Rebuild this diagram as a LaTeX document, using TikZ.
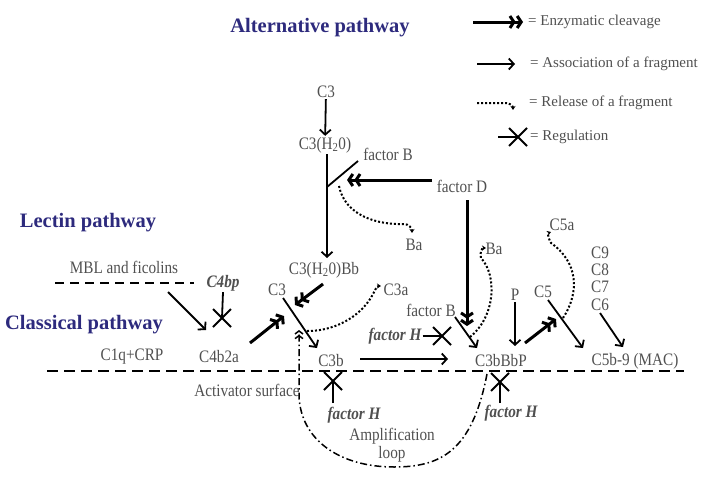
\documentclass[tikz,border=0pt]{standalone}
\usepackage{fontspec}
\setmainfont{Liberation Serif}
\newfontfamily\condserif[FakeStretch=0.87]{Liberation Serif}
\usetikzlibrary{arrows.meta,positioning}
\definecolor{pathblue}{RGB}{45,42,125}
\definecolor{lblgray}{RGB}{80,80,80}
\tikzset{
  lbl/.style={text=lblgray,font=\condserif\fontsize{17.5}{18}\selectfont,inner sep=1pt},
  leglbl/.style={text=lblgray,font=\fontsize{15}{16}\selectfont,inner sep=1pt},
  reglbl/.style={lbl,font=\condserif\fontsize{17.5}{18}\selectfont\bfseries\itshape},
  pathway/.style={text=pathblue,font=\fontsize{20.5}{24}\selectfont\bfseries,inner sep=1pt},
  assoc/.style={line width=1.8pt,-{Straight Barb[length=5pt,width=11pt]}},
  cleave/.style={line width=3pt,-{Straight Barb[length=4pt,width=12pt]Straight Barb[length=4pt,width=12pt]}},
  release/.style={line width=2pt,dotted,-{Stealth[length=4pt,width=5pt]}},
  regline/.style={line width=1.8pt},
  regx/.pic={\draw[line width=1.8pt] (-9,-9) -- (9,9) (-9,9) -- (9,-9);},
  surface/.style={line width=2.2pt,dash pattern=on 11pt off 6pt},
  lectin/.style={line width=1.8pt,dash pattern=on 9pt off 6pt},
  amploop/.style={line width=1.5pt,dash pattern=on 7pt off 3pt on 1.5pt off 3pt,
    -{Straight Barb[length=3pt,width=8pt]Straight Barb[length=3pt,width=8pt]}}
}
\begin{document}
\begin{tikzpicture}[x=1pt,y=-1pt]
\useasboundingbox (0,0) rectangle (709,479);
% pathway titles
\node[pathway] (altp) at (320,28) {Alternative pathway};
\node[pathway] (lecp) at (88,223) {Lectin pathway};
\node[pathway] (clap) at (84,325) {Classical pathway};
% legend
\node[leglbl,anchor=west] (legcl) at (527,22) {= Enzymatic cleavage};
\node[leglbl,anchor=west] (legas) at (529,64) {= Association of a fragment};
\node[leglbl,anchor=west] (legrl) at (528,103) {= Release of a fragment};
\node[leglbl,anchor=west] (legrg) at (529,137) {= Regulation};
\coordinate (legcl0) at (473,22);
\coordinate (legas0) at (477,64);
\coordinate (legrl0) at (477,103);
\coordinate (legrl1) at (513,110);
\coordinate (legrg0) at (498,137);
\coordinate (legrgx) at (518,137);
\draw[cleave,shorten >=4pt] (legcl0) -- (legcl.west);
\draw[assoc,shorten >=14pt] (legas0) -- (legas.west);
\draw[release] (legrl0) -- (506,103) to[out=0,in=90] (legrl1);
\draw[regline] (legrg0) -- (legrgx);
\pic at (legrgx) {regx};
% alternative pathway
\node[lbl] (c3top) at (326,92) {C3};
\node[lbl] (c3h2o) at (325,145) {C3(H\textsubscript{2}0)};
\node[lbl] (facB1) at (388,154) {factor B};
\node[lbl] (facD) at (462,186) {factor D};
\node[lbl] (ba1) at (414,245) {Ba};
\node[lbl] (ba2) at (494,249) {Ba};
\node[lbl] (c3h2obb) at (324,270) {C3(H\textsubscript{2}0)Bb};
\node[lbl] (c3mid) at (277,290) {C3};
\node[lbl] (c3a) at (396,290) {C3a};
\coordinate (jB) at (327,187);
\coordinate (jBD) at (347,180);
\coordinate (facDl) at (432,180);
\coordinate (facDd) at (467,200);
\coordinate (facDt) at (467,326);
\draw[assoc] (c3top) -- (c3h2o);
\draw[assoc] (c3h2o.south -| jB) -- (327,258);
\draw[line width=1.8pt] (jB) -- (358,161);
\draw[cleave] (facDl) -- (jBD);
\draw[cleave] (facDd) -- (facDt);
\draw[release] (339,186) .. controls (345,216) and (378,225) .. (404,224) to[out=0,in=90] (412,233);
\draw[release] (470,337) .. controls (496,316) and (497,275) .. (481,258) to[out=110,in=180] (486,248);
% lectin and classical pathway
\node[lbl] (mbl) at (124,267) {MBL and ficolins};
\node[reglbl] (c4bp) at (223,283) {C4bp};
\node[lbl] (c1q) at (132,357) {C1q+CRP};
\node[lbl] (c4b2a) at (219,357) {C4b2a};
\node[lbl] (c3b) at (331,361) {C3b};
\coordinate (lecL) at (55,283);
\coordinate (lecR) at (194,283);
\coordinate (c4bpx) at (222,318);
\draw[lectin] (lecL) -- (lecR);
\draw[assoc] (168,292) -- (206,330);
\draw[regline] (c4bp.south) -- (c4bpx);
\pic at (c4bpx) {regx};
\draw[cleave] (250,343) -- (284,316);
\draw[cleave] (323,284) -- (295,305);
\draw[assoc] (283,298) -- (317,348);
\draw[release] (307,331) .. controls (340,331) and (364,312) .. (373,294) to[out=60,in=180] (381,286);
% C3 convertase and MAC
\node[lbl] (c3bbbp) at (501,361) {C3bBbP};
\node[lbl] (mac) at (635,361) {C5b-9 (MAC)};
\node[reglbl] (facH1) at (395,336) {factor H};
\node[lbl] (facB2) at (431,310) {factor B};
\node[lbl] (prop) at (515,295) {P};
\node[lbl] (c5) at (543,292) {C5};
\node[lbl] (c5a) at (562,225) {C5a};
\node[lbl] (c9) at (600,253) {C9};
\node[lbl] (c8) at (600,270) {C8};
\node[lbl] (c7) at (600,287) {C7};
\node[lbl] (c6) at (600,305) {C6};
\coordinate (facH1x) at (442,336);
\draw[assoc] (360,359) -- (448,359);
\draw[regline] (facH1.east) -- (facH1x);
\pic at (facH1x) {regx};
\draw[assoc] (455,317) -- (477,348);
\draw[assoc] (prop.south) -- (515,346);
\draw[cleave] (525,343) -- (556,319);
\draw[assoc] (548,300) -- (583,348);
\draw[release] (563,318) .. controls (580,292) and (578,262) .. (551,243) to[out=120,in=200] (551,232);
\draw[assoc] (600,313) -- (623,347);
% activator surface and amplification loop
\node[lbl] (actsurf) at (247,390) {Activator surface};
\node[reglbl] (facH2) at (354,415) {factor H};
\node[reglbl] (facH3) at (511,413) {factor H};
\node[lbl,align=center] (amplif) at (392,445) {Amplification\\loop};
\coordinate (surfL) at (47,371);
\coordinate (surfR) at (684,371);
\coordinate (facH2x) at (333,381);
\coordinate (facH3x) at (500,382);
\draw[surface] (surfL) -- (surfR);
\draw[regline] (333,403) -- (facH2x);
\pic at (facH2x) {regx};
\draw[regline] (500,403) -- (facH3x);
\pic at (facH3x) {regx};
\draw[amploop] (487,374) .. controls (472,452) and (440,467) .. (394,467) .. controls (340,467) and (300,440) .. (299,395) -- (299,330);
\end{tikzpicture}
\end{document}
